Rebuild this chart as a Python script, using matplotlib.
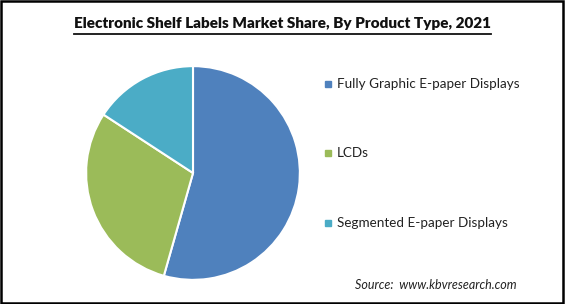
import matplotlib.pyplot as plt
from matplotlib.lines import Line2D
from matplotlib.patches import Rectangle

# === Data ===
labels = ["Fully Graphic E-paper Displays", "LCDs", "Segmented E-paper Displays"]
shares = [54.4, 29.8, 15.8]
colors = ["#4F81BD", "#9BBB59", "#4BACC6"]

title = "Electronic Shelf Labels Market Share, By Product Type, 2021"
source = "Source:  www.kbvresearch.com"

plt.rcParams['font.family'] = ['Lato', 'DejaVu Sans']

W, H = 565, 304
fig = plt.figure(figsize=(W / 100, H / 100), dpi=100)

# === Pie (center ~ (193,173) px, radius ~109 px) ===
cx, cy, r = 193, 173, 109
ax = fig.add_axes([(cx - r) / W, (H - cy - r) / H, 2 * r / W, 2 * r / H])
ax.pie(shares, colors=colors, startangle=90, counterclock=False,
       wedgeprops=dict(edgecolor="white", linewidth=1.5))
ax.set_xlim(-1.02, 1.02)
ax.set_ylim(-1.02, 1.02)
ax.set_aspect("equal")
ax.axis("off")

# === Legend (manual, evenly spaced) ===
legend_y = [84, 153, 223]
for lab, col, y in zip(labels, colors, legend_y):
    fig.patches.append(Rectangle((325 / W, (H - y - 3) / H), 6 / W, 6 / H,
                                 transform=fig.transFigure, color=col))
    fig.text(337 / W, (H - y) / H, lab, fontsize=9.7, va="center", ha="left",
             color="#222222")

# === Title with underline ===
t = fig.text(282.5 / W, (H - 23) / H, title, fontsize=11, fontweight="heavy",
             ha="center", va="center", color="#111111")
fig.canvas.draw()
bb = t.get_window_extent().transformed(fig.transFigure.inverted())
fig.lines.append(Line2D([bb.x0, bb.x1], [(H - 34) / H] * 2,
                        transform=fig.transFigure, color="#111111", linewidth=1.3))

# === Source ===
fig.text(517 / W, (H - 285) / H, source, fontsize=9, style="italic",
         ha="right", va="center", color="#222222")

# === Outer frame ===
fig.patches.append(Rectangle((0.002, 0.003), 0.994, 0.993, transform=fig.transFigure,
                             fill=False, edgecolor="black", linewidth=1.8))

plt.savefig("out.png", dpi=100)
